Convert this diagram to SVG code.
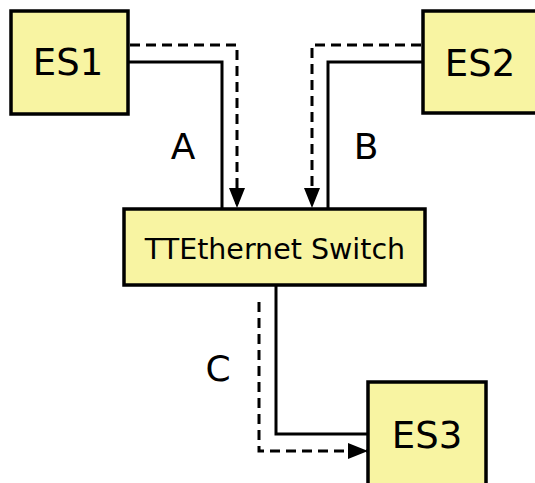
<svg xmlns="http://www.w3.org/2000/svg" width="535" height="483" viewBox="0 0 535 483">
<style>
.box{fill:#f8f4a2;stroke:#000;stroke-width:3.5}
.lbl{font-family:"DejaVu Sans",sans-serif;fill:#000;text-anchor:middle}
.solid{fill:none;stroke:#000;stroke-width:3}
.dash{fill:none;stroke:#000;stroke-width:3;stroke-dasharray:10,6}
</style>
<defs>
<marker id="arr" viewBox="0 0 20 16" refX="20" refY="8" markerWidth="20" markerHeight="16" markerUnits="userSpaceOnUse" orient="auto">
<path d="M0,0 L20,8 L0,16 Z" fill="#000"/>
</marker>
</defs>
<rect width="535" height="483" fill="#fff"/>
<g id="connectors">
<polyline class="solid" points="128,62 222,62 222,209"/>
<polyline class="dash" points="130,45 237,45 237,208" marker-end="url(#arr)"/>
<polyline class="solid" points="423,62 328,62 328,209"/>
<polyline class="dash" points="421,45 312,45 312,208" marker-end="url(#arr)"/>
<polyline class="solid" points="276,285 276,434 368,434"/>
<polyline class="dash" points="259,302 259,451 368,451" marker-end="url(#arr)"/>
<text class="lbl" x="183" y="159" font-size="36">A</text>
<text class="lbl" x="366" y="159" font-size="36">B</text>
<text class="lbl" x="218" y="381" font-size="36">C</text>
</g>
<g id="ES1">
<rect class="box" x="11" y="11" width="117" height="103"/>
<text class="lbl" x="68" y="75" font-size="37">ES1</text>
</g>
<g id="ES2">
<rect class="box" x="423" y="11" width="130" height="102"/>
<text class="lbl" x="480" y="76" font-size="37">ES2</text>
</g>
<g id="switch">
<rect class="box" x="124" y="209" width="301" height="76"/>
<text class="lbl" x="275" y="259" font-size="28.5">TTEthernet Switch</text>
</g>
<g id="ES3">
<rect class="box" x="368" y="382" width="118" height="120"/>
<text class="lbl" x="427" y="448" font-size="37">ES3</text>
</g>
</svg>
